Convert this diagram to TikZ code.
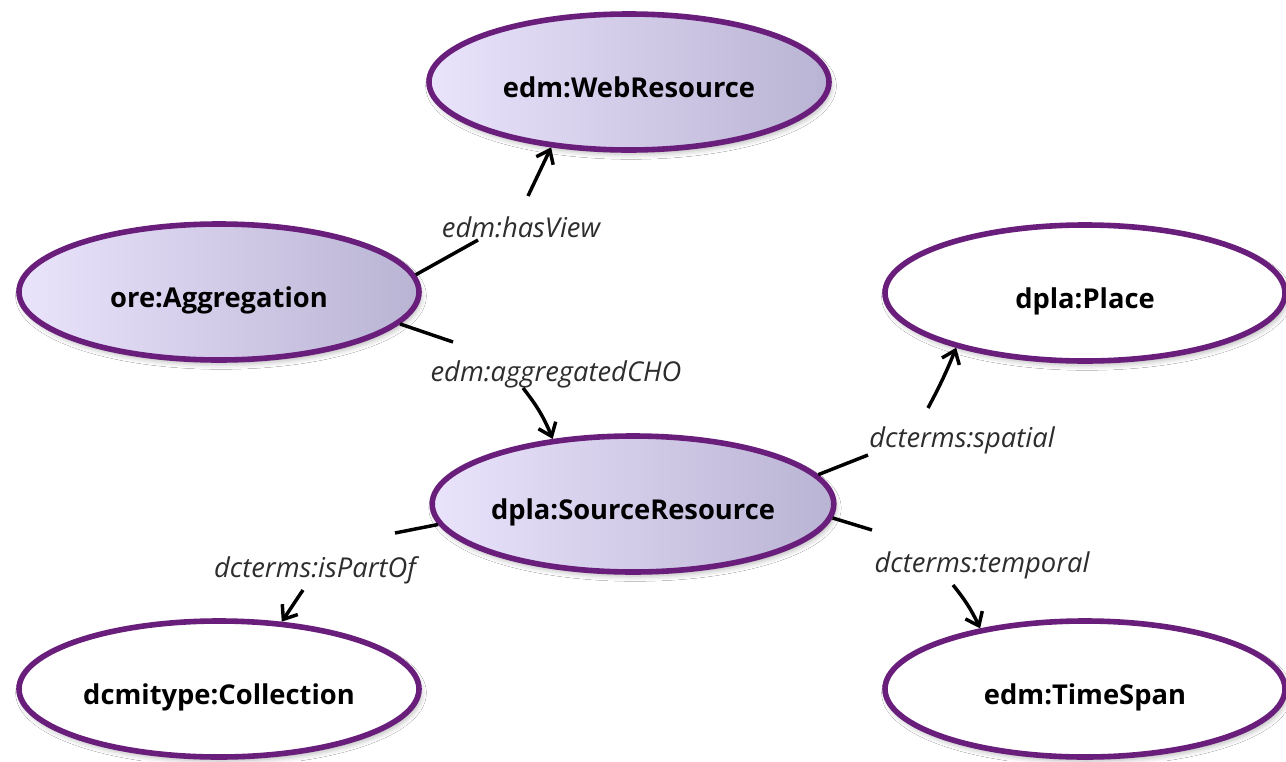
\documentclass[tikz,border=0pt]{standalone}
\usepackage{fontspec}
\setmainfont{Open Sans}
\usetikzlibrary{arrows.meta,shadows.blur,shapes.geometric}
\definecolor{ringpurple}{RGB}{106,30,124}
\definecolor{lavL}{RGB}{234,227,252}
\definecolor{lavR}{RGB}{186,180,212}
\definecolor{lbltext}{RGB}{45,45,45}
\begin{document}
\begin{tikzpicture}[x=0.75pt,y=-0.75pt,
  entity/.style={ellipse, draw=ringpurple, line width=4.2pt, minimum width=300pt, minimum height=102pt, inner sep=0pt,
    font=\bfseries\fontsize{20.5}{24}\selectfont, text height=23pt, text depth=0pt,
    blur shadow={shadow xshift=1.5pt, shadow yshift=-3pt, shadow blur radius=4pt, shadow opacity=30}},
  shadedent/.style={entity, left color=lavL, right color=lavR},
  plainent/.style={entity, fill=white},
  prop/.style={font=\itshape\fontsize{20.5}{24}\selectfont, text=lbltext, inner sep=0pt, text depth=0pt},
  rel/.style={draw=black, line width=2.6pt},
  relarrow/.style={rel, -{Straight Barb[length=9pt,width=14pt]}}
]
\useasboundingbox[fill=white] (0,0) rectangle (1286,761);

\node[shadedent] (web) at (629,82) {edm:WebResource};
\node[shadedent] (ore) at (219,292) {ore:Aggregation};
\node[shadedent] (src) at (633,504) {dpla:SourceResource};
\node[plainent] (place) at (1085,293) {dpla:Place};
\node[plainent] (coll) at (219,689) {dcmitype:Collection};
\node[plainent] (time) at (1085,689) {edm:TimeSpan};

\node[prop] (l1) at (521,227) {edm:hasView};
\node[prop] (l2) at (556,371) {edm:aggregatedCHO};
\node[prop] (l3) at (962,437) {dcterms:spatial};
\node[prop] (l4) at (982,562) {dcterms:temporal};
\node[prop] (l5) at (315,567) {dcterms:isPartOf};

\coordinate (l1a) at (478,240); \coordinate (l1b) at (528,196);
\coordinate (l2a) at (453,342); \coordinate (l2b) at (523,388);
\coordinate (l3a) at (868,455); \coordinate (l3b) at (928,408);
\coordinate (l4a) at (872,530); \coordinate (l4b) at (953,585);
\coordinate (l5a) at (395,533); \coordinate (l5b) at (303,590);

\draw[rel] (ore.5.5) -- (l1a);
\draw[relarrow] (l1b) -- (web.220);
\draw[rel] (ore.-10) -- (l2a);
\draw[relarrow] (l2b) to[bend left=8] (src.141);
\draw[rel] (src.9) -- (l3a);
\draw[relarrow] (l3b) to[bend right=3] (place.203);
\draw[rel] (src.-4) -- (l4a);
\draw[relarrow] (l4b) to[bend left=7] (time.150);
\draw[rel] (src.186) -- (l5a);
\draw[relarrow] (l5b) -- (coll.47);
\end{tikzpicture}
\end{document}
